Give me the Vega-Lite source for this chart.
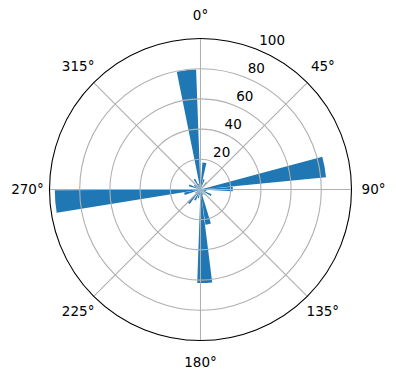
{
  "$schema": "https://vega.github.io/schema/vega-lite/v6.json",
  "width": 401,
  "height": 379,
  "autosize": {"type": "none"},
  "padding": 0,
  "config": {"view": {"stroke": null}, "font": "DejaVu Sans"},
  "datasets": {
    "bars": [
      {"start": 348.6, "end": 357.9, "r": 79.5},
      {"start": 75.0, "end": 84.4, "r": 83.5},
      {"start": 260.8, "end": 269.7, "r": 96.5},
      {"start": 172.8, "end": 182.0, "r": 62},
      {"start": 4.0, "end": 12.5, "r": 18},
      {"start": 85.0, "end": 93.0, "r": 21.4},
      {"start": 163.0, "end": 172.0, "r": 23.5},
      {"start": 217.0, "end": 226.0, "r": 12},
      {"start": 203.0, "end": 212.0, "r": 8},
      {"start": 325.0, "end": 334.0, "r": 8},
      {"start": 38.0, "end": 47.0, "r": 6},
      {"start": 113.0, "end": 122.0, "r": 8},
      {"start": 251.0, "end": 260.0, "r": 11},
      {"start": 285.0, "end": 294.0, "r": 8},
      {"start": 15.0, "end": 23.0, "r": 7},
      {"start": 132.0, "end": 140.0, "r": 5},
      {"start": 190.0, "end": 198.0, "r": 6},
      {"start": 300.0, "end": 308.0, "r": 5},
      {"start": 232.0, "end": 240.0, "r": 4},
      {"start": 150.0, "end": 158.0, "r": 4},
      {"start": 98.0, "end": 106.0, "r": 4},
      {"start": 335.0, "end": 343.0, "r": 4}
    ],
    "rings": [{"r": 20}, {"r": 40}, {"r": 60}, {"r": 80}],
    "spine": [{"r": 100}],
    "spokes": [{"a": 0}, {"a": 45}, {"a": 90}, {"a": 135}, {"a": 180}, {"a": 225}, {"a": 270}, {"a": 315}],
    "alabels": [
      {"a": 0, "t": "0°"}, {"a": 45, "t": "45°"}, {"a": 90, "t": "90°"}, {"a": 135, "t": "135°"},
      {"a": 180, "t": "180°"}, {"a": 225, "t": "225°"}, {"a": 270, "t": "270°"}, {"a": 315, "t": "315°"}
    ],
    "rlabels": [{"v": 20}, {"v": 40}, {"v": 60}, {"v": 80}, {"v": 100}]
  },
  "layer": [
    {
      "data": {"name": "bars"},
      "mark": {"type": "arc", "color": "#1f77b4"},
      "encoding": {
        "theta": {"field": "start", "type": "quantitative", "stack": null,
          "scale": {"type": "linear", "domain": [0, 360], "range": [0, 6.283185307179586]}},
        "theta2": {"field": "end"},
        "radius": {"field": "r", "type": "quantitative", "stack": null,
          "scale": {"type": "linear", "domain": [0, 100], "range": [0, 151], "zero": true, "nice": false}},
        "radius2": {"value": 0}
      }
    },
    {
      "data": {"name": "rings"},
      "mark": {"type": "arc", "filled": false, "fill": null, "stroke": "#b0b0b0", "strokeWidth": 1.1},
      "encoding": {
        "theta": {"datum": 0, "type": "quantitative", "stack": null},
        "theta2": {"datum": 360},
        "radius": {"field": "r", "type": "quantitative", "stack": null},
        "radius2": {"value": 0}
      }
    },
    {
      "data": {"name": "spokes"},
      "mark": {"type": "arc", "filled": false, "fill": null, "stroke": "#b0b0b0", "strokeWidth": 1.1},
      "encoding": {
        "theta": {"field": "a", "type": "quantitative", "stack": null},
        "theta2": {"field": "a"},
        "radius": {"datum": 100, "type": "quantitative", "stack": null},
        "radius2": {"value": 0}
      }
    },
    {
      "data": {"name": "spine"},
      "mark": {"type": "arc", "filled": false, "fill": null, "stroke": "#000000", "strokeWidth": 1.1},
      "encoding": {
        "theta": {"datum": 0, "type": "quantitative", "stack": null},
        "theta2": {"datum": 360},
        "radius": {"field": "r", "type": "quantitative", "stack": null},
        "radius2": {"value": 0}
      }
    },
    {
      "data": {"name": "rlabels"},
      "mark": {"type": "text", "align": "left", "baseline": "bottom", "fontSize": 13.5, "color": "#000000", "dx": 1, "dy": -2},
      "encoding": {
        "theta": {"datum": 22.5, "type": "quantitative", "stack": null},
        "radius": {"field": "v", "type": "quantitative", "stack": null},
        "text": {"field": "v", "type": "quantitative"}
      }
    },
    {
      "data": {"name": "alabels"},
      "mark": {"type": "text", "align": "center", "baseline": "middle", "fontSize": 13.5, "color": "#000000"},
      "encoding": {
        "theta": {"field": "a", "type": "quantitative", "stack": null},
        "radius": {"datum": 114.6, "type": "quantitative", "stack": null},
        "text": {"field": "t", "type": "nominal"}
      }
    }
  ]
}
